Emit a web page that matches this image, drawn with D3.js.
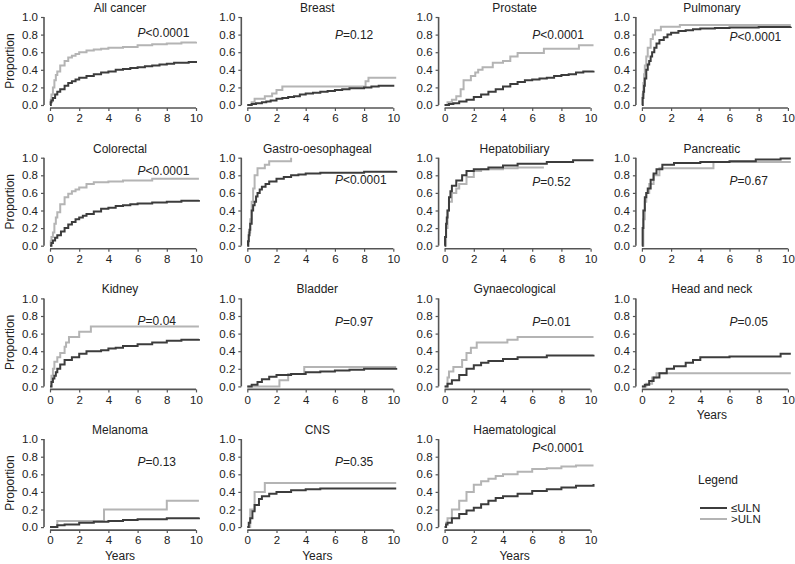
<!DOCTYPE html>
<html><head><meta charset="utf-8">
<script src="https://cdn.jsdelivr.net/npm/d3@7"></script>
<style>body{margin:0;background:#fff}svg{display:block}text{font-family:"Liberation Sans",Arial,sans-serif;fill:#222}</style>
</head><body><svg id="c" width="795" height="564"></svg>
<script>
const titles = ["All cancer","Breast","Prostate","Pulmonary","Colorectal","Gastro-oesophageal","Hepatobiliary","Pancreatic","Kidney","Bladder","Gynaecological","Head and neck","Melanoma","CNS","Haematological"];
const pOps = ["<","=","<","<","<","<","=","=","=","=","=","=","=","=","<"];
const pVals = ["0.0001","0.12","0.0001","0.0001","0.0001","0.0001","0.52","0.67","0.04","0.97","0.01","0.05","0.13","0.35","0.0001"];
const pLabelLevel = [0.82,0.8,0.8,0.77,0.85,0.75,0.73,0.74,0.75,0.73,0.73,0.73,0.74,0.74,0.9];
const xTicks = [0,2,4,6,8,10];
const yTicks = [0,0.2,0.4,0.6,0.8,1.0];
const legendLabels = ["\u2264ULN",">ULN"];

// dark = <=ULN, light = >ULN ; [years, proportion]
const allCancerLow = [[0,0],[0.05,0.03],[0.1,0.05],[0.2,0.08],[0.35,0.12],[0.5,0.15],[0.7,0.18],[1,0.22],[1.25,0.25],[1.5,0.27],[1.75,0.29],[2,0.31],[2.5,0.33],[3,0.35],[3.5,0.37],[4,0.38],[4.5,0.4],[5,0.41],[5.5,0.42],[6,0.43],[6.5,0.44],[7,0.45],[7.5,0.46],[8,0.47],[8.5,0.48],[9,0.48],[9.5,0.49],[10,0.5]];
const allCancerHigh = [[0,0],[0.05,0.06],[0.1,0.12],[0.2,0.2],[0.3,0.28],[0.4,0.34],[0.5,0.38],[0.7,0.45],[1,0.5],[1.25,0.54],[1.5,0.56],[1.75,0.58],[2,0.6],[2.5,0.62],[3,0.63],[3.5,0.64],[4,0.65],[5,0.66],[6,0.68],[7,0.69],[8,0.7],[9,0.71],[10,0.72]];
const breastLow = [[0,0],[0.3,0.01],[0.6,0.02],[1,0.03],[1.3,0.04],[1.6,0.05],[2,0.07],[2.4,0.08],[2.8,0.09],[3.2,0.1],[3.6,0.12],[4,0.13],[4.5,0.14],[5,0.15],[5.5,0.16],[6,0.17],[6.5,0.18],[7,0.19],[8,0.2],[8.5,0.21],[9,0.22],[10,0.23]];
const breastHigh = [[0,0],[0.3,0.03],[0.5,0.07],[1.2,0.1],[1.7,0.13],[2.0,0.17],[2.4,0.21],[8.1,0.27],[8.3,0.31],[10.2,0.31]];
const prostateLow = [[0,0],[0.3,0.01],[0.6,0.02],[1,0.04],[1.5,0.06],[2,0.09],[2.5,0.12],[3,0.15],[3.5,0.18],[4,0.21],[4.5,0.24],[5,0.26],[5.5,0.28],[6,0.29],[6.5,0.3],[7,0.31],[7.5,0.33],[8,0.34],[8.5,0.35],[9,0.37],[9.5,0.38],[10.2,0.39]];
const prostateHigh = [[0,0],[0.2,0.03],[0.5,0.06],[0.8,0.1],[1.1,0.18],[1.3,0.28],[1.8,0.33],[2.1,0.37],[2.3,0.4],[2.6,0.43],[3.3,0.48],[4,0.5],[4.5,0.55],[5,0.59],[6.8,0.64],[9.2,0.68],[10.2,0.68]];
const pulmonaryLow = [[0,0],[0.05,0.08],[0.1,0.15],[0.15,0.22],[0.2,0.3],[0.3,0.4],[0.4,0.46],[0.5,0.5],[0.6,0.55],[0.7,0.6],[0.85,0.65],[1,0.7],[1.2,0.74],[1.5,0.77],[1.75,0.8],[2,0.82],[2.5,0.84],[3,0.85],[3.5,0.86],[4,0.87],[5,0.875],[6,0.88],[8,0.885],[10.2,0.89]];
const pulmonaryHigh = [[0,0],[0.05,0.12],[0.1,0.25],[0.15,0.35],[0.2,0.45],[0.3,0.55],[0.4,0.65],[0.6,0.75],[0.75,0.8],[0.9,0.85],[1.3,0.89],[2.6,0.91],[10.2,0.91]];
const colorectalLow = [[0,0],[0.1,0.03],[0.2,0.06],[0.35,0.09],[0.5,0.12],[0.75,0.16],[1,0.2],[1.25,0.24],[1.5,0.27],[1.75,0.3],[2,0.32],[2.25,0.34],[2.5,0.36],[3,0.39],[3.5,0.42],[4,0.43],[4.5,0.45],[5,0.46],[5.5,0.47],[6,0.48],[7,0.49],[8,0.5],[9,0.51],[10.2,0.52]];
const colorectalHigh = [[0,0],[0.05,0.05],[0.1,0.1],[0.2,0.15],[0.3,0.25],[0.4,0.32],[0.5,0.38],[0.7,0.47],[1,0.55],[1.25,0.59],[1.5,0.62],[1.75,0.64],[2,0.66],[2.5,0.7],[3,0.72],[4,0.73],[5,0.74],[6,0.74],[7,0.76],[10.2,0.76]];
const gastroLow = [[0,0],[0.05,0.05],[0.1,0.12],[0.15,0.18],[0.2,0.25],[0.3,0.4],[0.4,0.46],[0.5,0.5],[0.6,0.56],[0.7,0.6],[0.85,0.64],[1,0.67],[1.25,0.7],[1.5,0.73],[2,0.76],[2.5,0.78],[3,0.8],[3.5,0.81],[4,0.82],[5,0.83],[6,0.83],[8,0.84],[10.2,0.85]];
const gastroHigh = [[0,0],[0.1,0.15],[0.2,0.3],[0.3,0.5],[0.4,0.65],[0.5,0.8],[0.7,0.88],[1.2,0.92],[1.5,0.96],[3.0,1.0],[3.0,1.0]];
const hepatoLow = [[0,0],[0.03,0.1],[0.1,0.25],[0.15,0.32],[0.2,0.4],[0.3,0.55],[0.4,0.62],[0.5,0.68],[0.8,0.74],[1.2,0.8],[1.5,0.85],[2,0.87],[3,0.89],[4,0.91],[5,0.93],[7,0.95],[8.8,0.97],[10.2,0.97]];
const hepatoHigh = [[0,0],[0.1,0.2],[0.2,0.4],[0.3,0.5],[0.5,0.6],[0.8,0.65],[1,0.7],[1.5,0.78],[2,0.85],[2.5,0.87],[4,0.88],[5,0.89],[6.8,0.89]];
const pancreaticLow = [[0,0],[0.05,0.2],[0.1,0.4],[0.2,0.55],[0.3,0.6],[0.4,0.65],[0.6,0.75],[0.8,0.82],[1,0.87],[1.4,0.92],[2.2,0.94],[4,0.95],[6,0.96],[7.8,0.98],[9.5,0.99],[10.2,0.99]];
const pancreaticHigh = [[0,0],[0.1,0.3],[0.2,0.5],[0.3,0.6],[0.5,0.7],[0.8,0.8],[1.2,0.88],[4.9,0.95],[10.2,0.95]];
const kidneyLow = [[0,0],[0.1,0.05],[0.2,0.09],[0.3,0.12],[0.4,0.16],[0.5,0.2],[0.7,0.25],[1,0.3],[1.5,0.33],[2,0.37],[2.5,0.4],[3.5,0.41],[4,0.43],[4.5,0.44],[5,0.46],[6,0.48],[7,0.5],[8,0.52],[9,0.53],[10.2,0.54]];
const kidneyHigh = [[0,0],[0.1,0.12],[0.2,0.2],[0.3,0.28],[0.5,0.33],[0.7,0.38],[1.0,0.45],[1.1,0.5],[1.3,0.56],[2.0,0.62],[2.8,0.68],[10.2,0.68]];
const bladderLow = [[0,0],[0.3,0.02],[0.7,0.05],[1,0.08],[1.5,0.11],[2,0.13],[3,0.14],[4,0.16],[5,0.17],[6,0.18],[7,0.19],[8,0.2],[10.2,0.21]];
const bladderHigh = [[0,0],[2.2,0.07],[2.8,0.14],[3.9,0.22],[10.2,0.22]];
const gynaeLow = [[0,0],[0.2,0.03],[0.5,0.07],[1,0.13],[1.5,0.2],[2,0.24],[2.5,0.27],[3,0.29],[4,0.31],[5,0.33],[7,0.35],[10.2,0.36]];
const gynaeHigh = [[0,0],[0.2,0.1],[0.3,0.17],[0.6,0.22],[1.2,0.3],[1.5,0.38],[1.8,0.44],[2.2,0.5],[4.3,0.53],[5,0.56],[10.2,0.56]];
const headNeckLow = [[0,0],[0.2,0.02],[0.5,0.06],[0.8,0.1],[1.2,0.15],[1.7,0.2],[2.2,0.23],[3,0.27],[3.5,0.3],[4,0.33],[6,0.34],[9.5,0.37],[10.2,0.37]];
const headNeckHigh = [[0,0],[0.3,0.03],[0.7,0.1],[1.0,0.15],[10.2,0.15]];
const melanomaLow = [[0,0],[0.5,0.02],[1,0.03],[2,0.05],[3,0.06],[4,0.07],[5,0.08],[6,0.09],[8,0.1],[10.2,0.11]];
const melanomaHigh = [[0,0],[0.5,0.07],[3.7,0.2],[8,0.3],[10.2,0.3]];
const cnsLow = [[0,0],[0.1,0.05],[0.2,0.1],[0.35,0.18],[0.5,0.25],[0.8,0.32],[1,0.35],[1.5,0.38],[2,0.4],[3,0.42],[4,0.43],[5,0.44],[10.2,0.44]];
const cnsHigh = [[0,0],[0.2,0.2],[0.5,0.4],[1.2,0.5],[10.2,0.5]];
const haemLow = [[0,0],[0.1,0.03],[0.2,0.05],[0.5,0.1],[1,0.15],[1.5,0.19],[2,0.22],[2.5,0.26],[3,0.3],[3.5,0.33],[4,0.35],[5,0.38],[6,0.41],[7,0.43],[8,0.45],[9,0.47],[10.2,0.49]];
const haemHigh = [[0,0],[0.1,0.05],[0.2,0.1],[0.5,0.2],[1,0.3],[1.5,0.4],[2,0.48],[2.5,0.52],[3,0.55],[3.5,0.58],[4,0.6],[5,0.63],[6,0.66],[7,0.67],[8,0.69],[9,0.7],[10.2,0.7]];

const lowSeries = [allCancerLow,breastLow,prostateLow,pulmonaryLow,colorectalLow,gastroLow,hepatoLow,pancreaticLow,kidneyLow,bladderLow,gynaeLow,headNeckLow,melanomaLow,cnsLow,haemLow];
const highSeries = [allCancerHigh,breastHigh,prostateHigh,pulmonaryHigh,colorectalHigh,gastroHigh,hepatoHigh,pancreaticHigh,kidneyHigh,bladderHigh,gynaeHigh,headNeckHigh,melanomaHigh,cnsHigh,haemHigh];

const svg = d3.select("#c");
const darkCol = "#3c3c3c", lightCol = "#b4b4b4", axisCol = "#555";
const colStep = 197.3, rowStep = 140.7, pw = 146, ph = 88;

titles.forEach((title, i) => {
  const r = Math.floor(i/4), c = i%4;
  const x0 = 50 + c*colStep, yTop = 17 + r*rowStep;
  const x = d3.scaleLinear().domain([0,10]).range([x0, x0+pw]);
  const y = d3.scaleLinear().domain([0,1]).range([yTop+ph, yTop]);
  const g = svg.append("g");
  // y axis
  const ya = g.append("g").attr("transform",`translate(${x0-6},0)`)
    .call(d3.axisLeft(y).tickValues(yTicks).tickFormat(d3.format(".1f")).tickSize(3).tickPadding(3));
  // x axis
  const xa = g.append("g").attr("transform",`translate(0,${yTop+ph+3})`)
    .call(d3.axisBottom(x).tickValues(xTicks).tickFormat(d3.format("d")).tickSize(3).tickPadding(3));
  [ya,xa].forEach(a=>{
    a.select(".domain").attr("stroke",axisCol).attr("stroke-width",1.6);
    a.selectAll(".tick line").attr("stroke",axisCol).attr("stroke-width",1.2);
    a.selectAll("text").attr("font-size",11.5).attr("fill","#222").style("font-family",'"Liberation Sans",Arial,sans-serif');
  });
  // redraw domains without outer ticks
  ya.select(".domain").attr("d",`M0,${y(0)}V${y(1)}`);
  xa.select(".domain").attr("d",`M${x(0)},0H${x(10)}`);
  // title
  g.append("text").attr("x", x0-6+ (pw+6)/2).attr("y", yTop-5)
    .attr("text-anchor","middle").attr("font-size",12).text(title);
  // curves
  const line = d3.line().x(d=>x(d[0])).y(d=>y(d[1])).curve(d3.curveStepAfter);
  g.append("path").datum(highSeries[i]).attr("d",line).attr("fill","none").attr("stroke",lightCol).attr("stroke-width",2);
  g.append("path").datum(lowSeries[i]).attr("d",line).attr("fill","none").attr("stroke",darkCol).attr("stroke-width",2);
  // P label
  const pt = g.append("text").attr("x", x(6)).attr("y", y(pLabelLevel[i])).attr("dy","0.35em").attr("font-size",12);
  pt.append("tspan").attr("font-style","italic").text("P");
  pt.append("tspan").text(pOps[i]+pVals[i]);
  if (c===0) {
    g.append("text").attr("transform",`translate(14,${yTop+ph/2}) rotate(-90)`)
      .attr("text-anchor","middle").attr("font-size",12).text("Proportion");
  }
  if (r===3 || i===11) {
    g.append("text").attr("x", x0-6+(pw+6)/2).attr("y", yTop+ph+33).attr("text-anchor","middle").attr("font-size",12).text("Years");
  }
});

// legend
const lg = svg.append("g");
lg.append("text").attr("x",698).attr("y",484).attr("font-size",12).text("Legend");
[darkCol, lightCol].forEach((col,k)=>{
  lg.append("line").attr("x1",700).attr("x2",727).attr("y1",508+k*11).attr("y2",508+k*11).attr("stroke",col).attr("stroke-width",2);
  lg.append("text").attr("x",731).attr("y",508+k*11).attr("dy","0.35em").attr("font-size",11.5).text(legendLabels[k]);
});
</script></body></html>
